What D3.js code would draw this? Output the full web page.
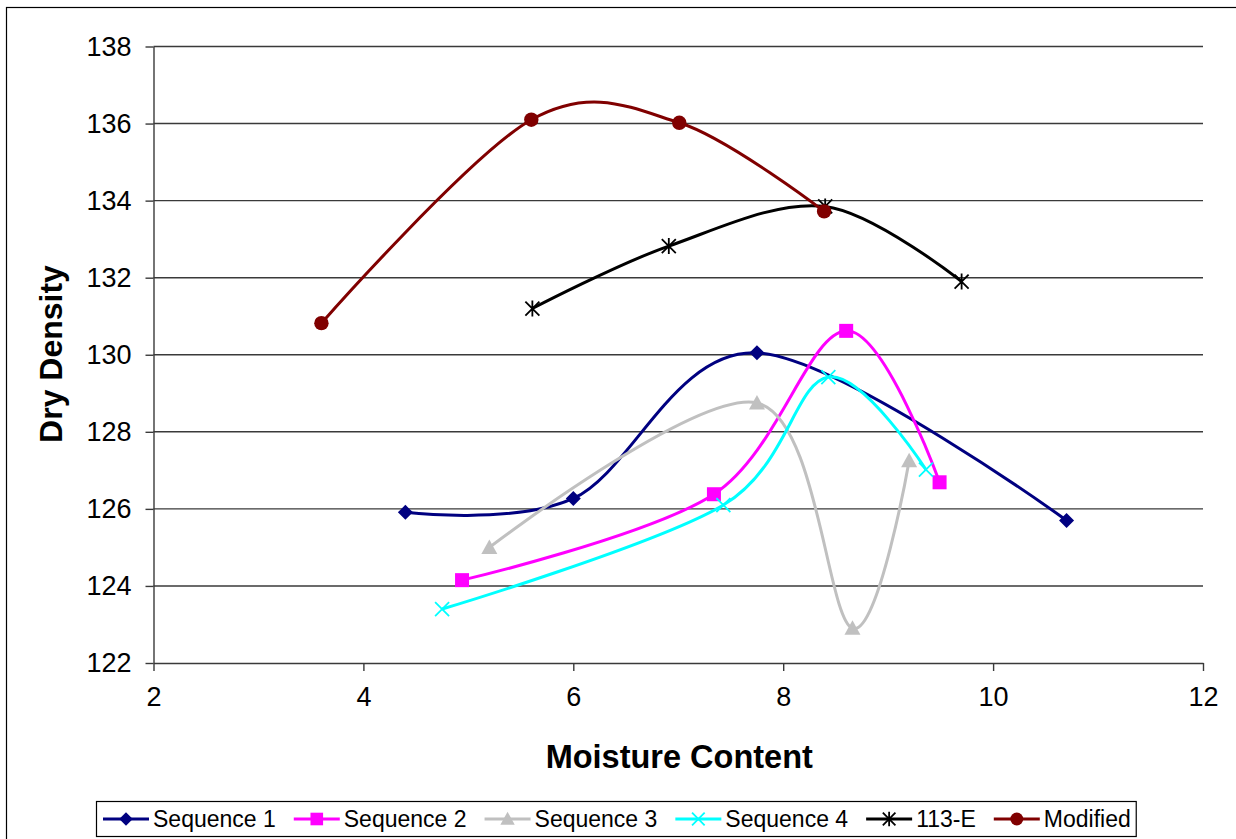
<!DOCTYPE html>
<html>
<head>
<meta charset="utf-8">
<script src="https://cdn.jsdelivr.net/npm/d3@7"></script>
<style>
  html, body { margin: 0; padding: 0; background: #fff; }
  svg { display: block; font-family: "Liberation Sans", Arial, sans-serif; }
</style>
</head>
<body>
<svg id="chart" width="1236" height="839"></svg>
<script>
// Compaction test results: moisture content (%) vs dry density
const seriesNames = ["Sequence 1", "Sequence 2", "Sequence 3", "Sequence 4", "113-E", "Modified"];

const seq1X = [4.40, 6.00, 7.75, 10.70];
const seq1Y = [125.91, 126.27, 130.05, 125.70];

const seq2X = [4.94, 7.34, 8.60, 9.49];
const seq2Y = [124.15, 126.38, 130.62, 126.69];

const seq3X = [5.20, 7.75, 8.66, 9.20];
const seq3Y = [125.00, 128.75, 122.90, 127.25];

const seq4X = [4.75, 7.43, 8.43, 9.36];
const seq4Y = [123.40, 126.10, 129.42, 127.02];

const e113X = [5.61, 6.91, 8.40, 9.70];
const e113Y = [131.20, 132.82, 133.85, 131.90];

const modX = [3.60, 5.60, 7.01, 8.39];
const modY = [130.82, 136.10, 136.02, 133.72];

const xTicks = [2, 4, 6, 8, 10, 12];
const yTicks = [122, 124, 126, 128, 130, 132, 134, 136, 138];

const styles = [
  { color: "#000080", marker: "diamond" },
  { color: "#FF00FF", marker: "square" },
  { color: "#C0C0C0", marker: "triangle" },
  { color: "#00FFFF", marker: "cross" },
  { color: "#000000", marker: "star" },
  { color: "#800000", marker: "circle" }
];

const seriesX = [seq1X, seq2X, seq3X, seq4X, e113X, modX];
const seriesY = [seq1Y, seq2Y, seq3Y, seq4Y, e113Y, modY];
const series = seriesNames.map((name, i) => ({
  name,
  ...styles[i],
  points: seriesX[i].map((x, j) => ({ x, y: seriesY[i][j] }))
}));

const svg = d3.select("#chart");

// outer chart frame
svg.append("rect")
  .attr("x", 6.5).attr("y", 7.5)
  .attr("width", 1240).attr("height", 850)
  .attr("fill", "none").attr("stroke", "#000").attr("stroke-width", 1.2);

const plot = { left: 153.5, right: 1203, top: 46.5, bottom: 663 };

const x = d3.scaleLinear().domain([2, 12]).range([plot.left, plot.right]);
const y = d3.scaleLinear().domain([122, 138]).range([plot.bottom, plot.top]);

// horizontal gridlines
svg.append("g")
  .selectAll("line")
  .data(yTicks.filter(t => t !== 122))
  .join("line")
  .attr("x1", plot.left).attr("x2", plot.right)
  .attr("y1", d => y(d)).attr("y2", d => y(d))
  .attr("stroke", "#3a3a3a").attr("stroke-width", 1.4);

// axes
const xAxis = svg.append("g")
  .attr("transform", `translate(0,${plot.bottom})`)
  .call(d3.axisBottom(x).tickValues(xTicks).tickSize(8).tickPadding(16).tickSizeOuter(0));
const yAxis = svg.append("g")
  .attr("transform", `translate(${plot.left},0)`)
  .call(d3.axisLeft(y).tickValues(yTicks).tickSize(8).tickPadding(14).tickSizeOuter(0));

[xAxis, yAxis].forEach(a => {
  a.select(".domain").attr("stroke", "#3a3a3a").attr("stroke-width", 1.4);
  a.selectAll(".tick line").attr("stroke", "#3a3a3a").attr("stroke-width", 1.4);
  a.selectAll(".tick text")
    .attr("fill", "#000")
    .style("font-family", '"Liberation Sans", Arial, sans-serif')
    .style("font-size", "27px");
});

// axis titles
svg.append("text")
  .attr("x", (plot.left + plot.right) / 2 + 1)
  .attr("y", 768)
  .attr("text-anchor", "middle")
  .style("font-size", "32.5px").style("font-weight", "bold")
  .text("Moisture Content");

svg.append("text")
  .attr("transform", "translate(62,354) rotate(-90)")
  .attr("text-anchor", "middle")
  .style("font-size", "32px").style("font-weight", "bold")
  .text("Dry Density");

// marker shapes
function drawMarker(g, type, color, cx, cy, scale = 1) {
  const s = scale;
  switch (type) {
    case "diamond":
      g.append("path")
        .attr("d", `M${cx},${cy - 7.5 * s}L${cx + 7.5 * s},${cy}L${cx},${cy + 7.5 * s}L${cx - 7.5 * s},${cy}Z`)
        .attr("fill", color);
      break;
    case "square":
      g.append("rect")
        .attr("x", cx - 7 * s).attr("y", cy - 7 * s)
        .attr("width", 14 * s).attr("height", 14 * s)
        .attr("fill", color);
      break;
    case "triangle":
      g.append("path")
        .attr("d", `M${cx},${cy - 8 * s}L${cx + 8 * s},${cy + 6.5 * s}L${cx - 8 * s},${cy + 6.5 * s}Z`)
        .attr("fill", color);
      break;
    case "cross":
      g.append("path")
        .attr("d", `M${cx - 7 * s},${cy - 7 * s}L${cx + 7 * s},${cy + 7 * s}M${cx + 7 * s},${cy - 7 * s}L${cx - 7 * s},${cy + 7 * s}`)
        .attr("stroke", color).attr("stroke-width", 1.8).attr("fill", "none");
      break;
    case "star":
      g.append("path")
        .attr("d", `M${cx - 7 * s},${cy - 7 * s}L${cx + 7 * s},${cy + 7 * s}M${cx + 7 * s},${cy - 7 * s}L${cx - 7 * s},${cy + 7 * s}M${cx},${cy - 8 * s}L${cx},${cy + 8 * s}`)
        .attr("stroke", color).attr("stroke-width", 1.8).attr("fill", "none");
      break;
    case "circle":
      g.append("circle")
        .attr("cx", cx).attr("cy", cy).attr("r", 7.2 * s)
        .attr("fill", color);
      break;
  }
}

// smoothed series lines with markers
const line = d3.line()
  .x(d => x(d.x))
  .y(d => y(d.y))
  .curve(d3.curveCardinal.tension(0));

const seriesG = svg.append("g");
series.forEach(s => {
  const g = seriesG.append("g");
  g.append("path")
    .datum(s.points)
    .attr("d", line)
    .attr("fill", "none")
    .attr("stroke", s.color)
    .attr("stroke-width", 3);
  s.points.forEach(p => drawMarker(g, s.marker, s.color, x(p.x), y(p.y)));
});

// legend
const legend = svg.append("g");
const legendY = 819;
let cursor = 0;
series.forEach(s => {
  const g = legend.append("g").attr("transform", `translate(${cursor},0)`);
  g.append("line")
    .attr("x1", 0).attr("x2", 46)
    .attr("y1", legendY).attr("y2", legendY)
    .attr("stroke", s.color).attr("stroke-width", 3);
  drawMarker(g, s.marker, s.color, 23, legendY, 0.9);
  const t = g.append("text")
    .attr("x", 50).attr("y", legendY + 8)
    .style("font-size", "23px")
    .text(s.name);
  const w = t.node().getComputedTextLength();
  cursor += 50 + w + 18;
});
const legendWidth = cursor - 18;
const legendLeft = 103;
legend.attr("transform", `translate(${legendLeft},0)`);
svg.insert("rect", "g")
  .attr("x", legendLeft - 6.5).attr("y", 801.5)
  .attr("width", legendWidth + 12).attr("height", 35)
  .attr("fill", "#fff").attr("stroke", "#000").attr("stroke-width", 1.2);
</script>
</body>
</html>
